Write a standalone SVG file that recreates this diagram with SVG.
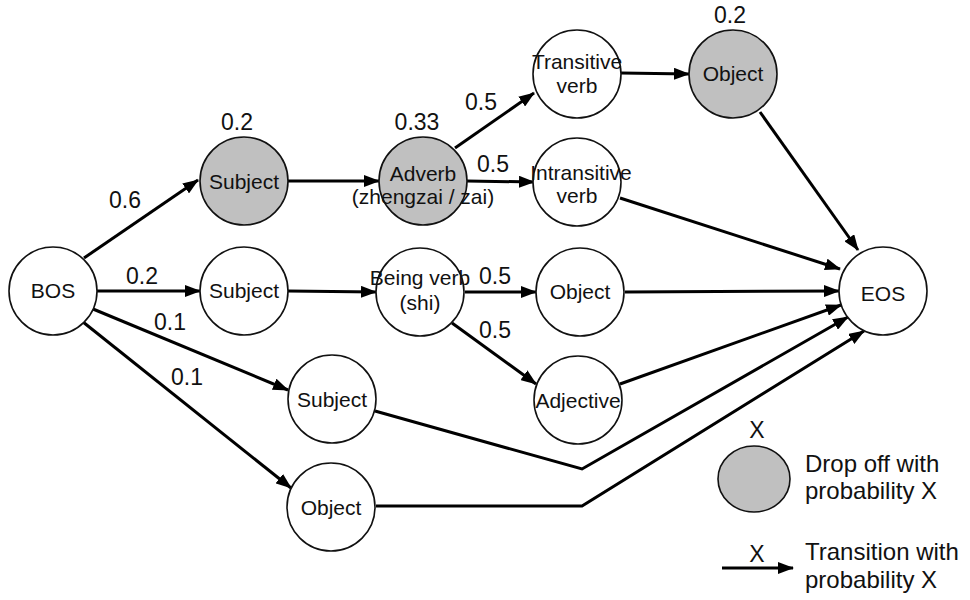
<svg xmlns="http://www.w3.org/2000/svg" width="970" height="600" viewBox="0 0 970 600">
<style>
.n{fill:#fff;stroke:#111;stroke-width:1.6}
.g{fill:#c0c0c0;stroke:#111;stroke-width:1.6}
.t{font-family:"Liberation Sans",Arial,sans-serif;font-size:21px;fill:#111;text-anchor:middle}
.p{font-family:"Liberation Sans",Arial,sans-serif;font-size:23px;fill:#111;text-anchor:middle}
.l{font-family:"Liberation Sans",Arial,sans-serif;font-size:24px;fill:#111}
.e{fill:none;stroke:#000;stroke-width:3}
</style>
<defs>
<marker id="a" markerUnits="userSpaceOnUse" markerWidth="16" markerHeight="12" refX="15" refY="6" orient="auto">
<path d="M0,0 L16,6 L0,12 Z" fill="#000"/>
</marker>
</defs>
<rect width="970" height="600" fill="#fff"/>
<g id="edges">
<line class="e" x1="84" y1="258" x2="198" y2="180" marker-end="url(#a)"/>
<line class="e" x1="97" y1="291" x2="200" y2="291" marker-end="url(#a)"/>
<line class="e" x1="93" y1="309" x2="288" y2="390" marker-end="url(#a)"/>
<line class="e" x1="83" y1="322" x2="291" y2="488" marker-end="url(#a)"/>
<line class="e" x1="288" y1="181" x2="379" y2="181" marker-end="url(#a)"/>
<line class="e" x1="455" y1="148" x2="534" y2="93" marker-end="url(#a)"/>
<line class="e" x1="467" y1="181" x2="534" y2="182" marker-end="url(#a)"/>
<line class="e" x1="621" y1="73" x2="689" y2="74" marker-end="url(#a)"/>
<line class="e" x1="288" y1="291" x2="376" y2="292" marker-end="url(#a)"/>
<line class="e" x1="465" y1="292" x2="536" y2="292" marker-end="url(#a)"/>
<line class="e" x1="452" y1="323" x2="536" y2="384" marker-end="url(#a)"/>
<line class="e" x1="760" y1="112" x2="858" y2="250" marker-end="url(#a)"/>
<line class="e" x1="620" y1="198" x2="840" y2="269" marker-end="url(#a)"/>
<line class="e" x1="625" y1="292" x2="839" y2="291" marker-end="url(#a)"/>
<line class="e" x1="620" y1="384" x2="841" y2="305" marker-end="url(#a)"/>
<polyline class="e" points="375,411 582,469 848,317" marker-end="url(#a)"/>
<polyline class="e" points="376,506 582,506 864,331" marker-end="url(#a)"/>
</g>
<g id="BOS"><circle class="n" cx="53" cy="291" r="44"/><text class="t" x="53" y="298">BOS</text></g>
<g id="SubjectTop"><circle class="g" cx="244" cy="181" r="44"/><text class="t" x="244" y="189">Subject</text><text class="p" x="237" y="130">0.2</text></g>
<g id="Adverb"><circle class="g" cx="423" cy="181" r="44"/><text class="t" x="423" y="181">Adverb</text><text class="t" x="423" y="204">(zhengzai / zai)</text><text class="p" x="417" y="130">0.33</text></g>
<g id="Transitive"><circle class="n" cx="577" cy="74" r="44"/><text class="t" x="577" y="69">Transitive</text><text class="t" x="577" y="93">verb</text></g>
<g id="ObjectTop"><circle class="g" cx="733" cy="74" r="44"/><text class="t" x="733" y="81">Object</text><text class="p" x="730" y="23">0.2</text></g>
<g id="Intransitive"><circle class="n" cx="577" cy="182" r="44"/><text class="t" x="581" y="180">Intransitive</text><text class="t" x="577" y="203">verb</text></g>
<g id="Subject2"><circle class="n" cx="244" cy="291" r="44"/><text class="t" x="244" y="298">Subject</text></g>
<g id="Being"><circle class="n" cx="420" cy="292" r="44"/><text class="t" x="420" y="285">Being verb</text><text class="t" x="420" y="310">(shi)</text></g>
<g id="Object2"><circle class="n" cx="580" cy="292" r="44"/><text class="t" x="580" y="299">Object</text></g>
<g id="Adjective"><circle class="n" cx="578" cy="400" r="44"/><text class="t" x="578" y="408">Adjective</text></g>
<g id="Subject3"><circle class="n" cx="332" cy="399" r="44"/><text class="t" x="332" y="407">Subject</text></g>
<g id="Object4"><circle class="n" cx="331" cy="507" r="44"/><text class="t" x="331" y="515">Object</text></g>
<g id="EOS"><circle class="n" cx="883" cy="291" r="44"/><text class="t" x="883" y="301">EOS</text></g>
<g id="labels">
<text class="p" x="125" y="208">0.6</text>
<text class="p" x="142" y="284">0.2</text>
<text class="p" x="170" y="330">0.1</text>
<text class="p" x="187" y="385">0.1</text>
<text class="p" x="481" y="110">0.5</text>
<text class="p" x="493" y="172">0.5</text>
<text class="p" x="495" y="284">0.5</text>
<text class="p" x="495" y="338">0.5</text>
</g>
<g id="legend">
<text class="p" x="757" y="438">X</text>
<ellipse class="g" cx="754" cy="479" rx="36" ry="33"/>
<text class="l" x="805" y="472">Drop off with</text>
<text class="l" x="805" y="499">probability X</text>
<text class="p" x="757" y="562">X</text>
<line class="e" x1="722" y1="568" x2="793" y2="568" marker-end="url(#a)"/>
<text class="l" x="805" y="560">Transition with</text>
<text class="l" x="805" y="588">probability X</text>
</g>
</svg>
